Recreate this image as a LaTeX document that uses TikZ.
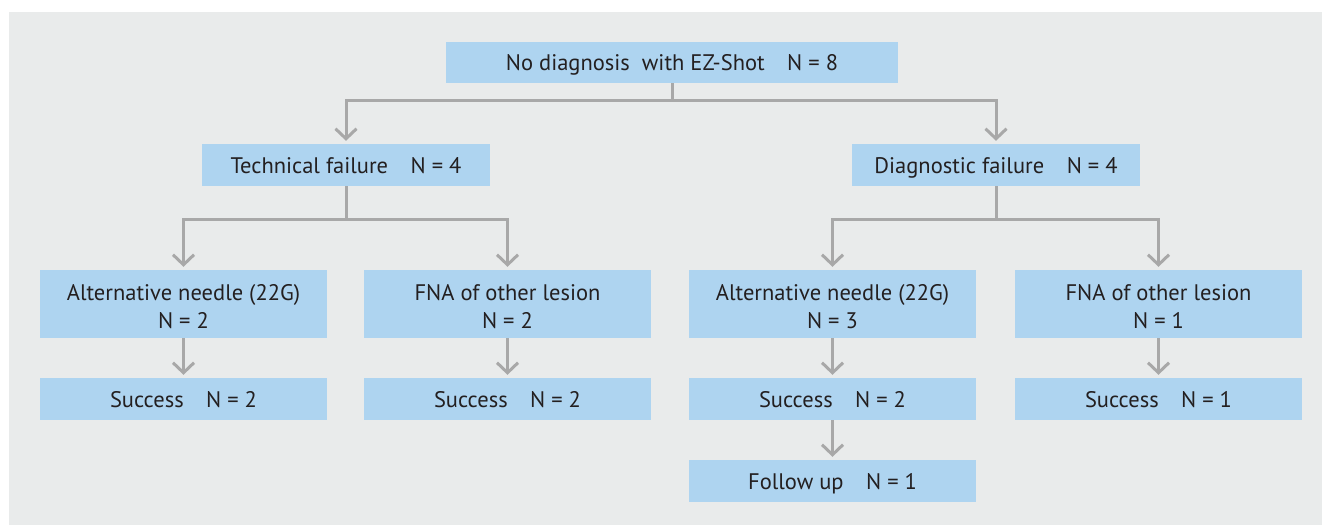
\documentclass[tikz,border=0pt]{standalone}
\usepackage{fontspec}
\setmainfont{PT Sans}
\usetikzlibrary{arrows.meta,calc}
\definecolor{bgpanel}{HTML}{E9EBEB}
\definecolor{boxblue}{HTML}{AED4F0}
\definecolor{linegray}{HTML}{A8A8A8}
\definecolor{txt}{HTML}{231F20}
\newcommand{\topstrut}{\rule{0pt}{21.5pt}}
\tikzset{
  box/.style={fill=boxblue, inner sep=0pt, text=txt, align=center,
    font=\fontsize{22.5}{28}\selectfont},
  wide/.style={minimum width=287pt, minimum height=42pt, text height=20pt, text depth=4pt},
  tall/.style={minimum width=287pt, minimum height=68pt},
  conn/.style={draw=linegray, line width=3pt},
  arr/.style={conn, -{Straight Barb[length=10pt,width=21pt,line width=3pt]}, shorten >=3pt},
}
\begin{document}
\begin{tikzpicture}[x=1pt,y=-1pt]
\useasboundingbox (0,0) rectangle (1322,525);
\fill[bgpanel] (9,12) rectangle (1322,525);

\node[box, wide, minimum width=452pt, minimum height=41pt] (top) at (672,62.5) {No diagnosis\ \ with EZ-Shot\quad N = 8};

\node[box, wide, minimum width=288pt] (tech) at (346,165) {Technical failure\quad N = 4};
\node[box, wide, minimum width=288pt] (diag) at (996,165) {Diagnostic failure\quad N = 4};

\node[box, tall] (alt1) at (183.5,304) {\topstrut Alternative needle (22G)\\N = 2};
\node[box, tall] (fna1) at (507.5,304) {\topstrut FNA of other lesion\\N = 2};
\node[box, tall] (alt2) at (832.5,304) {\topstrut Alternative needle (22G)\\N = 3};
\node[box, tall] (fna2) at (1158.5,304) {\topstrut FNA of other lesion\\N = 1};

\node[box, wide] (suc1) at (183.5,399) {Success\quad N = 2};
\node[box, wide] (suc2) at (507.5,399) {Success\quad N = 2};
\node[box, wide] (suc3) at (832.5,399) {Success\quad N = 2};
\node[box, wide] (suc4) at (1158.5,399) {Success\quad N = 1};

\node[box, wide] (fol) at (832.5,481) {Follow up\quad N = 1};

\coordinate (h1) at (0,100);
\coordinate (h2) at (0,219);

\draw[arr] (top.south) -- (top.south |- h1) -| (tech.north);
\draw[arr] (top.south) -- (top.south |- h1) -| (diag.north);

\draw[arr] (tech.south) -- (tech.south |- h2) -| (alt1.north);
\draw[arr] (tech.south) -- (tech.south |- h2) -| (fna1.north);
\draw[arr] (diag.south) -- (diag.south |- h2) -| (alt2.north);
\draw[arr] (diag.south) -- (diag.south |- h2) -| (fna2.north);

\draw[arr] (alt1.south) -- (suc1.north);
\draw[arr] (fna1.south) -- (suc2.north);
\draw[arr] (alt2.south) -- (suc3.north);
\draw[arr] (fna2.south) -- (suc4.north);
\draw[arr] (suc3.south) -- (fol.north);
\end{tikzpicture}
\end{document}
